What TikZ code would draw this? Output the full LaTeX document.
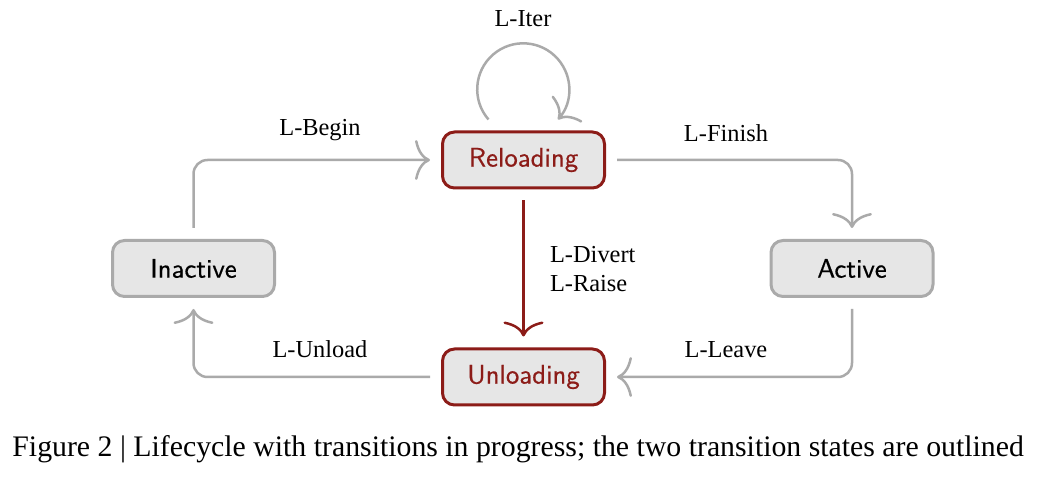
\documentclass[tikz,border=0pt]{standalone}
\usepackage{tikz}
\usepackage{color}
\usepackage{fontspec}
\setmainfont{Liberation Serif}
\setsansfont{lmsans10-regular.otf}[FakeBold=0.5]
\usetikzlibrary{arrows.meta}
\definecolor{darkred}{RGB}{140,28,24}
\definecolor{linegray}{RGB}{170,170,170}
\definecolor{boxgray}{RGB}{230,230,230}

\begin{document}
\begin{tikzpicture}[x=0.5pt, y=0.5pt,
  state/.style={draw=linegray, fill=boxgray, line width=1.5pt, rounded corners=6pt,
                minimum width=81pt, minimum height=28pt, font=\fontsize{13.4}{16}\sffamily},
  busy/.style={state, draw=darkred, text=darkred},
  link/.style={draw=linegray, line width=1.25pt, rounded corners=7pt,
               -{Computer Modern Rightarrow[length=7.5pt,width=20pt]},
               shorten <=5.5pt, shorten >=5.5pt},
  lbl/.style={anchor=base, font=\fontsize{12.2}{14}\selectfont}]
  \useasboundingbox (0,0) rectangle (1062,477);
  \node [busy]  (reload) at (523.5 , 317)   {Reloading};
  \node [busy]  (unload) at (523.5 , 100)   {Unloading};
  \node [state] (inact)  at (193.5 , 208.5) {Inactive};
  \node [state] (act)    at (852   , 208.5) {Active};
  \draw [link] (inact.north) |- (reload.west);
  \draw [link] (reload.east) -| (act.north);
  \draw [link] (act.south)   |- (unload.east);
  \draw [link] (unload.west) -| (inact.south);
  \draw [link, draw=darkred] (reload.south) -- (unload.north);
  \draw [link, shorten <=0pt, shorten >=0pt]
        ([shift={(-35,11)}]reload.north) arc [start angle=221, end angle=-41, radius=23pt];
  \node [lbl] (iter)   at (523 , 450) {L-Iter};
  \node [lbl] (begin)  at (320 , 341) {L-Begin};
  \node [lbl] (finish) at (726 , 335) {L-Finish};
  \node [lbl] (leave)  at (726 , 119) {L-Leave};
  \node [lbl] (unld)   at (320 , 119) {L-Unload};
  \node [lbl, anchor=base west] (divert) at (543 , 214) {L-Divert};
  \node [lbl, anchor=base west] (raise)  at (543 , 185) {L-Raise};
  \node [anchor=base west, inner sep=0pt, font=\fontsize{14.9}{17}\selectfont] (cap) at (12 , 20)
        {Figure 2 \textbar\ Lifecycle with transitions in progress; the two transition states are outlined};
\end{tikzpicture}
\end{document}
